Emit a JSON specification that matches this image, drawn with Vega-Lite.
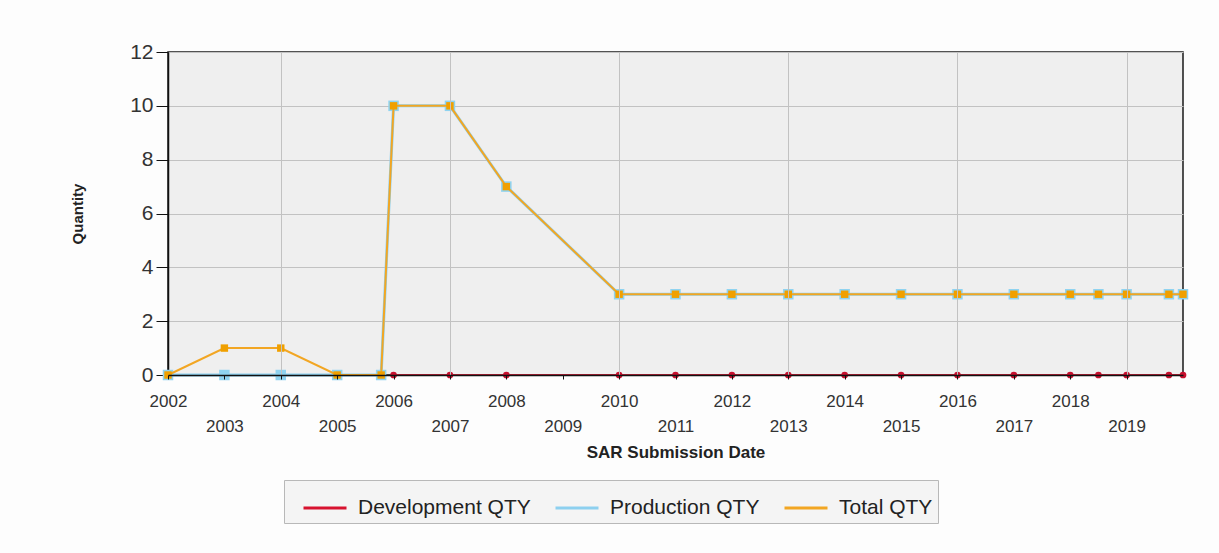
{
  "$schema": "https://vega.github.io/schema/vega-lite/v6.json",
  "width": 1015,
  "height": 323,
  "autosize": "none",
  "padding": {"left": 168, "top": 52, "right": 36, "bottom": 178},
  "background": "#fdfdfd",
  "config": {
    "font": "Liberation Sans",
    "view": {"fill": "#efefef", "stroke": "#1a1a1a", "strokeWidth": 1.5},
    "legend": {
      "orient": "none",
      "legendX": 116,
      "legendY": 428,
      "direction": "horizontal",
      "symbolType": "stroke",
      "symbolSize": 1849,
      "symbolStrokeWidth": 3,
      "symbolOffset": 13,
      "labelFontSize": 21,
      "labelColor": "#222222",
      "labelOffset": 10,
      "labelLimit": 400,
      "columnPadding": 10,
      "padding": 5,
      "fillColor": "#f4f4f4",
      "strokeColor": "#b8b8b8"
    }
  },
  "datasets": {
    "rows": [
      {"year": 2002, "series": "Production QTY", "qty": 0},
      {"year": 2003, "series": "Production QTY", "qty": 0},
      {"year": 2004, "series": "Production QTY", "qty": 0},
      {"year": 2005, "series": "Production QTY", "qty": 0},
      {"year": 2005.78, "series": "Production QTY", "qty": 0},
      {"year": 2006, "series": "Production QTY", "qty": 10},
      {"year": 2007, "series": "Production QTY", "qty": 10},
      {"year": 2008, "series": "Production QTY", "qty": 7},
      {"year": 2010, "series": "Production QTY", "qty": 3},
      {"year": 2011, "series": "Production QTY", "qty": 3},
      {"year": 2012, "series": "Production QTY", "qty": 3},
      {"year": 2013, "series": "Production QTY", "qty": 3},
      {"year": 2014, "series": "Production QTY", "qty": 3},
      {"year": 2015, "series": "Production QTY", "qty": 3},
      {"year": 2016, "series": "Production QTY", "qty": 3},
      {"year": 2017, "series": "Production QTY", "qty": 3},
      {"year": 2018, "series": "Production QTY", "qty": 3},
      {"year": 2018.5, "series": "Production QTY", "qty": 3},
      {"year": 2019, "series": "Production QTY", "qty": 3},
      {"year": 2019.75, "series": "Production QTY", "qty": 3},
      {"year": 2020, "series": "Production QTY", "qty": 3},
      {"year": 2002, "series": "Total QTY", "qty": 0},
      {"year": 2003, "series": "Total QTY", "qty": 1},
      {"year": 2004, "series": "Total QTY", "qty": 1},
      {"year": 2005, "series": "Total QTY", "qty": 0},
      {"year": 2005.78, "series": "Total QTY", "qty": 0},
      {"year": 2006, "series": "Total QTY", "qty": 10},
      {"year": 2007, "series": "Total QTY", "qty": 10},
      {"year": 2008, "series": "Total QTY", "qty": 7},
      {"year": 2010, "series": "Total QTY", "qty": 3},
      {"year": 2011, "series": "Total QTY", "qty": 3},
      {"year": 2012, "series": "Total QTY", "qty": 3},
      {"year": 2013, "series": "Total QTY", "qty": 3},
      {"year": 2014, "series": "Total QTY", "qty": 3},
      {"year": 2015, "series": "Total QTY", "qty": 3},
      {"year": 2016, "series": "Total QTY", "qty": 3},
      {"year": 2017, "series": "Total QTY", "qty": 3},
      {"year": 2018, "series": "Total QTY", "qty": 3},
      {"year": 2018.5, "series": "Total QTY", "qty": 3},
      {"year": 2019, "series": "Total QTY", "qty": 3},
      {"year": 2019.75, "series": "Total QTY", "qty": 3},
      {"year": 2020, "series": "Total QTY", "qty": 3},
      {"year": 2006, "series": "Development QTY", "qty": 0},
      {"year": 2007, "series": "Development QTY", "qty": 0},
      {"year": 2008, "series": "Development QTY", "qty": 0},
      {"year": 2010, "series": "Development QTY", "qty": 0},
      {"year": 2011, "series": "Development QTY", "qty": 0},
      {"year": 2012, "series": "Development QTY", "qty": 0},
      {"year": 2013, "series": "Development QTY", "qty": 0},
      {"year": 2014, "series": "Development QTY", "qty": 0},
      {"year": 2015, "series": "Development QTY", "qty": 0},
      {"year": 2016, "series": "Development QTY", "qty": 0},
      {"year": 2017, "series": "Development QTY", "qty": 0},
      {"year": 2018, "series": "Development QTY", "qty": 0},
      {"year": 2018.5, "series": "Development QTY", "qty": 0},
      {"year": 2019, "series": "Development QTY", "qty": 0},
      {"year": 2019.75, "series": "Development QTY", "qty": 0},
      {"year": 2020, "series": "Development QTY", "qty": 0}
    ]
  },
  "data": {"name": "rows"},
  "encoding": {
    "x": {
      "field": "year",
      "type": "quantitative",
      "title": "SAR Submission Date",
      "scale": {"domain": [2002, 2020], "nice": false, "zero": false},
      "axis": {
        "values": [2002, 2003, 2004, 2005, 2006, 2007, 2008, 2009, 2010, 2011, 2012, 2013, 2014, 2015, 2016, 2017, 2018, 2019],
        "format": "d",
        "labelFontSize": 17,
        "labelColor": "#333333",
        "labelFlush": false,
        "labelOverlap": false,
        "labelPadding": {"condition": {"test": "datum.value % 2 == 1", "value": 39}, "value": 14},
        "tickSize": 4,
        "tickColor": "#111111",
        "domainColor": "#111111",
        "domainWidth": 1.5,
        "gridColor": "#c2c2c2",
        "gridOpacity": {"condition": {"test": "(datum.value - 2004) % 3 == 0", "value": 1}, "value": 0},
        "titleFontSize": 17,
        "titleFontWeight": "bold",
        "titleColor": "#222222",
        "titlePadding": 10,
        "zindex": 1
      }
    },
    "y": {
      "field": "qty",
      "type": "quantitative",
      "title": "Quantity",
      "scale": {"domain": [0, 12], "nice": false},
      "axis": {
        "values": [0, 2, 4, 6, 8, 10, 12],
        "labelFontSize": 21,
        "labelColor": "#333333",
        "tickSize": 12,
        "tickColor": "#111111",
        "labelPadding": 3,
        "domainColor": "#111111",
        "domainWidth": 1.5,
        "gridColor": "#c2c2c2",
        "titleFontSize": 15,
        "titleFontWeight": "bold",
        "titleColor": "#222222",
        "titlePadding": 44
      }
    },
    "color": {
      "field": "series",
      "type": "nominal",
      "title": null,
      "scale": {
        "domain": ["Development QTY", "Production QTY", "Total QTY"],
        "range": ["#d7122f", "#8dd0ef", "#f2a623"]
      }
    }
  },
  "layer": [
    {
      "transform": [{"filter": "datum.series == 'Production QTY'"}],
      "mark": {"type": "line", "strokeWidth": 3}
    },
    {
      "transform": [{"filter": "datum.series == 'Production QTY'"}],
      "mark": {"type": "point", "shape": "square", "filled": true, "size": 110, "opacity": 1},
      "encoding": {"color": {"value": "#8fd3f0"}}
    },
    {
      "transform": [{"filter": "datum.series == 'Total QTY'"}],
      "mark": {"type": "line", "strokeWidth": 2}
    },
    {
      "transform": [{"filter": "datum.series == 'Total QTY'"}],
      "mark": {"type": "point", "shape": "square", "filled": true, "size": 55, "opacity": 1},
      "encoding": {"color": {"value": "#f0a000"}}
    },
    {
      "transform": [{"filter": "datum.series == 'Development QTY'"}],
      "mark": {"type": "line", "strokeWidth": 1.5}
    },
    {
      "transform": [{"filter": "datum.series == 'Development QTY'"}],
      "mark": {"type": "point", "shape": "circle", "filled": true, "size": 45, "opacity": 1},
      "encoding": {"color": {"value": "#c8102e"}}
    }
  ]
}
